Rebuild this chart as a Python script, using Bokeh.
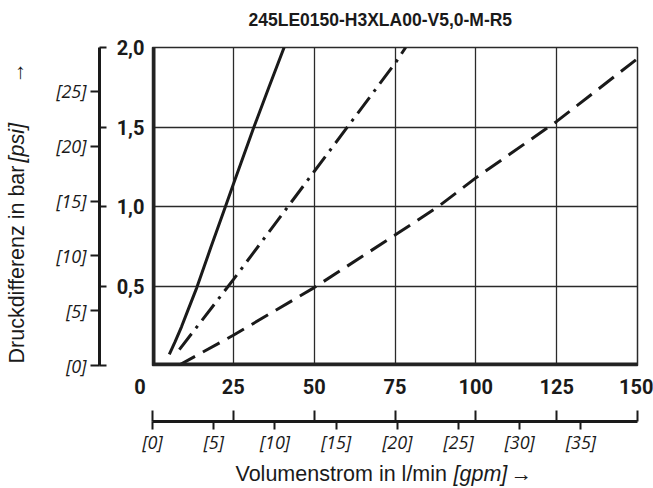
import math
from bokeh.plotting import figure
from bokeh.models import Range1d, LinearAxis, FixedTicker, Span
from bokeh.core.properties import value
from bokeh.layouts import row, column
from bokeh.embed import file_html
from bokeh.resources import INLINE

PSI_PER_BAR = 14.5038
LPM_PER_GPM = 3.78541

title_text = "245LE0150-H3XLA00-V5,0-M-R5"
x_title = ["Volumenstrom in l/min", "[gpm]", "→"]
y_title = ["Druckdifferenz in bar", "[psi]", "→"]

# curves: flow in l/min, pressure drop in bar
flow_solid = [5.2, 7.0, 9.0, 11.0, 13.7, 18.0, 22.4, 25.0, 31.2, 36.0, 40.7]
dp_solid = [0.07, 0.15, 0.245, 0.35, 0.49, 0.74, 0.99, 1.14, 1.49, 1.75, 2.0]

flow_dashdot = [8.3, 25.0, 50.0, 75.0, 78.3]
dp_dashdot = [0.10, 0.54, 1.22, 1.90, 2.0]

flow_dashed = [8.0, 25.0, 50.0, 75.0, 88.4, 100.0, 125.0, 150.0]
dp_dashed = [0.0, 0.19, 0.49, 0.82, 1.0, 1.18, 1.535, 1.93]

# axes
lpm_ticks = [0, 25, 50, 75, 100, 125, 150]
lpm_labels = ["0\u00a0\u00a0\u00a0\u00a0\u00a0", "25", "50", "75", "100", "125", "150"]
lpm_minor = [0, 25, 50, 75, 100, 125, 150]
gpm_ticks = [0, 5, 10, 15, 20, 25, 30, 35]
gpm_labels = ["[0]", "[5]", "[10]", "[15]", "[20]", "[25]", "[30]", "[35]"]
bar_ticks = [0.5, 1.0, 1.5, 2.0]
bar_labels = ["0,5", "1,0", "1,5", "2,0"]
bar_minor = [0.0, 0.5, 1.0, 1.5, 2.0]
psi_ticks = [0, 5, 10, 15, 20, 25]
psi_labels = ["[0]", "[5]", "[10]", "[15]", "[20]", "[25]"]
x_grid = [25, 50, 75, 100, 125]
y_grid = [0.5, 1.0, 1.5]

X_MAX = 150
Y_MAX = 2.0

INK = "#1a1a1a"
NUM_FONT = "Roboto"
TICK_FONT = "Open Sans"
TXT_FONT = "Liberation Sans"

W, H = 653, 488
LEFT_W = 44          # strip holding the vertical title
TOP_H = 30           # strip holding the chart title
BOTTOM_H = 30        # strip holding the horizontal title
# frame edges on the page
F_LEFT, F_RIGHT, F_TOP, F_BOTTOM = 152, 637, 47, 365

# ---------------- main chart ----------------
p = figure(width=W - LEFT_W, height=H - TOP_H - BOTTOM_H,
           x_range=Range1d(0, X_MAX), y_range=Range1d(0, Y_MAX),
           x_axis_location=None, y_axis_location=None,
           toolbar_location=None, output_backend="svg",
           min_border_left=F_LEFT - LEFT_W, min_border_right=W - F_RIGHT,
           min_border_top=F_TOP - TOP_H, min_border_bottom=H - BOTTOM_H - F_BOTTOM)
p.extra_x_ranges = {"gpm": Range1d(0, X_MAX / LPM_PER_GPM)}
p.extra_y_ranges = {"psi": Range1d(0, Y_MAX * PSI_PER_BAR)}

p.background_fill_color = "white"
p.border_fill_color = "white"
p.outline_line_color = "#2a2a2a"
p.outline_line_width = 1.5

p.xgrid.ticker = FixedTicker(ticks=x_grid)
p.ygrid.ticker = FixedTicker(ticks=y_grid)
for g in (p.xgrid, p.ygrid):
    g.grid_line_color = "#2a2a2a"
    g.grid_line_width = 1.3

# left: bar labels (nearest the frame)
ax_bar = LinearAxis(ticker=FixedTicker(ticks=bar_ticks),
                    major_label_overrides=dict(zip(bar_ticks, bar_labels)))
ax_bar.axis_line_color = None
ax_bar.major_tick_line_color = None
ax_bar.minor_tick_line_color = None
ax_bar.major_tick_in = 0
ax_bar.major_tick_out = 0
ax_bar.major_label_standoff = 8
ax_bar.major_label_text_font = NUM_FONT
ax_bar.major_label_text_font_style = "bold"
ax_bar.major_label_text_font_size = "20px"
ax_bar.major_label_text_color = INK
ax_bar.axis_label = " "
ax_bar.axis_label_text_font_size = "10px"
ax_bar.axis_label_standoff = 0
p.add_layout(ax_bar, "left")

# left: psi axis with line; bar ticks point inwards
ax_psi = LinearAxis(y_range_name="psi",
                    ticker=FixedTicker(ticks=psi_ticks,
                                       minor_ticks=[b * PSI_PER_BAR for b in bar_minor]),
                    major_label_overrides=dict(zip(psi_ticks, psi_labels)))
ax_psi.axis_line_width = 3
ax_psi.axis_line_color = INK
ax_psi.major_tick_out = 9
ax_psi.major_tick_in = 0
ax_psi.minor_tick_in = 7
ax_psi.minor_tick_out = 0
ax_psi.major_tick_line_width = 2
ax_psi.minor_tick_line_width = 2
ax_psi.major_tick_line_color = INK
ax_psi.minor_tick_line_color = INK
ax_psi.major_label_standoff = 4
ax_psi.major_label_text_font = TICK_FONT
ax_psi.major_label_text_font_style = "italic"
ax_psi.major_label_text_font_size = "18px"
ax_psi.major_label_text_color = INK
p.add_layout(ax_psi, "left")

# bottom: l/min labels
ax_lpm = LinearAxis(ticker=FixedTicker(ticks=lpm_ticks),
                    major_label_overrides=dict(zip(lpm_ticks, lpm_labels)))
ax_lpm.axis_line_color = None
ax_lpm.major_tick_line_color = None
ax_lpm.minor_tick_line_color = None
ax_lpm.major_tick_in = 0
ax_lpm.major_tick_out = 0
ax_lpm.major_label_standoff = 9
ax_lpm.major_label_text_font = NUM_FONT
ax_lpm.major_label_text_font_style = "bold"
ax_lpm.major_label_text_font_size = "20px"
ax_lpm.major_label_text_color = INK
ax_lpm.axis_label = " "
ax_lpm.axis_label_text_font_size = "14px"
ax_lpm.axis_label_standoff = 1
p.add_layout(ax_lpm, "below")

# bottom: gpm axis with line; l/min ticks point upwards
ax_gpm = LinearAxis(x_range_name="gpm",
                    ticker=FixedTicker(ticks=gpm_ticks,
                                       minor_ticks=[v / LPM_PER_GPM for v in lpm_minor]),
                    major_label_overrides=dict(zip(gpm_ticks, gpm_labels)))
ax_gpm.axis_line_width = 3
ax_gpm.axis_line_color = INK
ax_gpm.major_tick_out = 8
ax_gpm.major_tick_in = 0
ax_gpm.minor_tick_in = 11
ax_gpm.minor_tick_out = 0
ax_gpm.major_tick_line_width = 2
ax_gpm.minor_tick_line_width = 2
ax_gpm.major_tick_line_color = INK
ax_gpm.minor_tick_line_color = INK
ax_gpm.major_label_standoff = 0
ax_gpm.major_label_text_font = TICK_FONT
ax_gpm.major_label_text_font_style = "italic"
ax_gpm.major_label_text_font_size = "18px"
ax_gpm.major_label_text_color = INK
p.add_layout(ax_gpm, "below")

# thick left and bottom frame edges
p.add_layout(Span(location=0, dimension="height", line_color="#222222", line_width=6))
p.add_layout(Span(location=0, dimension="width", line_color="#222222", line_width=6))

# curves
p.line(flow_solid, dp_solid, line_color=INK, line_width=3)
p.line(flow_dashdot, dp_dashdot, line_color=INK, line_width=3, line_dash="20 7 3 7")
p.line(flow_dashed, dp_dashed, line_color=INK, line_width=3, line_dash="19 9")


def strip(width, height, page_x0, page_y0, b_left, b_right, b_top, b_bottom):
    """A bare figure whose data units are page pixels (x right, y up from the page bottom)."""
    fx0 = page_x0 + b_left
    fx1 = page_x0 + width - b_right
    fy_top = page_y0 + b_top
    fy_bot = page_y0 + height - b_bottom
    f = figure(width=width, height=height,
               x_range=Range1d(fx0, fx1), y_range=Range1d(H - fy_bot, H - fy_top),
               x_axis_location=None, y_axis_location=None,
               toolbar_location=None, output_backend="svg",
               min_border_left=b_left, min_border_right=b_right,
               min_border_top=b_top, min_border_bottom=b_bottom)
    f.outline_line_color = None
    f.xgrid.visible = False
    f.ygrid.visible = False
    f.background_fill_color = "white"
    f.border_fill_color = "white"
    return f


FS = "21.5px"
FONT = value(TXT_FONT)

# ---------------- title strip ----------------
lt = strip(W - LEFT_W, TOP_H, LEFT_W, 0, F_LEFT - LEFT_W, W - F_RIGHT, 0, 0)
lt.text(x=[248], y=[H - 19.5], text=[title_text],
        text_font=FONT, text_font_style="bold", text_font_size="17.5px", text_color=INK,
        text_align="left", text_baseline="middle")

# ---------------- vertical title strip ----------------
ly = strip(LEFT_W, H, 0, 0, 0, 0, F_TOP, H - F_BOTTOM)
ly.text(x=[16.5], y=[H - 363], text=[y_title[0]], angle=math.pi / 2,
        text_font=FONT, text_font_size=FS, text_color=INK,
        text_align="left", text_baseline="middle")
ly.text(x=[16.5], y=[H - 162], text=[y_title[1]], angle=math.pi / 2,
        text_font=FONT, text_font_style="italic", text_font_size=FS, text_color=INK,
        text_align="left", text_baseline="middle")
ly.text(x=[16.5], y=[H - 83], text=[y_title[2]], angle=math.pi / 2,
        text_font=FONT, text_font_size=FS, text_color=INK,
        text_align="left", text_baseline="middle")

# ---------------- horizontal title strip ----------------
lx = strip(W - LEFT_W, BOTTOM_H, LEFT_W, H - BOTTOM_H,
           F_LEFT - LEFT_W, W - F_RIGHT, 0, 0)
lx.text(x=[235], y=[H - 473.5], text=[x_title[0]],
        text_font=FONT, text_font_size=FS, text_color=INK,
        text_align="left", text_baseline="middle")
lx.text(x=[453], y=[H - 473.5], text=[x_title[1]],
        text_font=FONT, text_font_style="italic", text_font_size=FS, text_color=INK,
        text_align="left", text_baseline="middle")
lx.text(x=[510], y=[H - 473.5], text=[x_title[2]],
        text_font=FONT, text_font_size=FS, text_color=INK,
        text_align="left", text_baseline="middle")

layout = row(ly, column(lt, p, lx, spacing=0), spacing=0)

open("out.html", "w").write(file_html(layout, INLINE))
